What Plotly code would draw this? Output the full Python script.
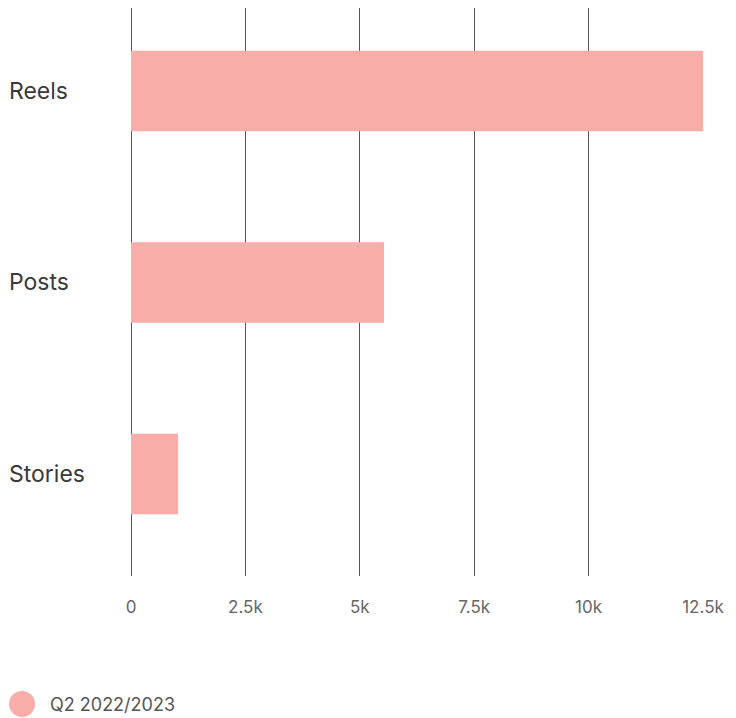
import plotly.graph_objects as go

categories = ["Reels", "Posts", "Stories"]
values = [12500, 5530, 1030]
series_name = "Q2 2022/2023"
tick_vals = [0, 2500, 5000, 7500, 10000, 12500]
tick_text = ["0", "2.5k", "5k", "7.5k", "10k", "12.5k"]

BAR_COLOR = "#F8ADA8"
FONT = "Inter"

fig = go.Figure()
fig.add_trace(go.Bar(
    y=categories, x=values, orientation="h",
    marker=dict(color=BAR_COLOR, line=dict(width=0)),
    width=0.42, showlegend=False, name=series_name,
))

# page body has an 8px margin, so the figure is offset by (8, 8)
OFF = 8
W, H = 736 - OFF, 718 - OFF
ml, mr, mt, mb = 131 - OFF, 33, 8 - OFF, 142
PW, PH = W - ml - mr, H - mt - mb

fig.update_layout(
    width=W, height=H,
    margin=dict(l=ml, r=mr, t=mt, b=mb, pad=0),
    paper_bgcolor="white", plot_bgcolor="white",
    showlegend=False,
    font=dict(family=FONT, color="#555"),
    xaxis=dict(
        range=[0, 12500], tickvals=tick_vals, ticktext=tick_text,
        showgrid=True, gridcolor="#555", gridwidth=1,
        zeroline=True, zerolinecolor="#555", zerolinewidth=1,
        ticks="outside", ticklen=16, tickcolor="rgba(0,0,0,0)",
        tickfont=dict(size=17, color="#666", family=FONT),
        showline=False, layer="below traces",
    ),
    yaxis=dict(
        categoryorder="array", categoryarray=categories,
        range=[2.533, -0.433], showticklabels=False,
        showgrid=False, zeroline=False, showline=False,
    ),
)

for c in categories:
    fig.add_annotation(
        x=(7 - 131) / PW, xref="paper",
        y=c, yref="y", text=c, showarrow=False,
        xanchor="left", yanchor="middle",
        font=dict(size=23, color="#3a3a3a", family=FONT),
    )

# custom legend (circle marker + label)
leg_y = -(704 - 576) / PH
fig.add_shape(
    type="circle", xref="paper", yref="paper",
    xsizemode="pixel", ysizemode="pixel",
    xanchor=(22 - 131) / PW, yanchor=leg_y,
    x0=-13, x1=13, y0=-13, y1=13,
    fillcolor=BAR_COLOR, line=dict(width=0),
)
fig.add_annotation(
    x=(48 - 131) / PW, xref="paper",
    y=leg_y, yref="paper",
    text=series_name, showarrow=False, xanchor="left", yanchor="middle",
    font=dict(size=18, color="#555", family=FONT),
)

fig.write_html("out.html")
